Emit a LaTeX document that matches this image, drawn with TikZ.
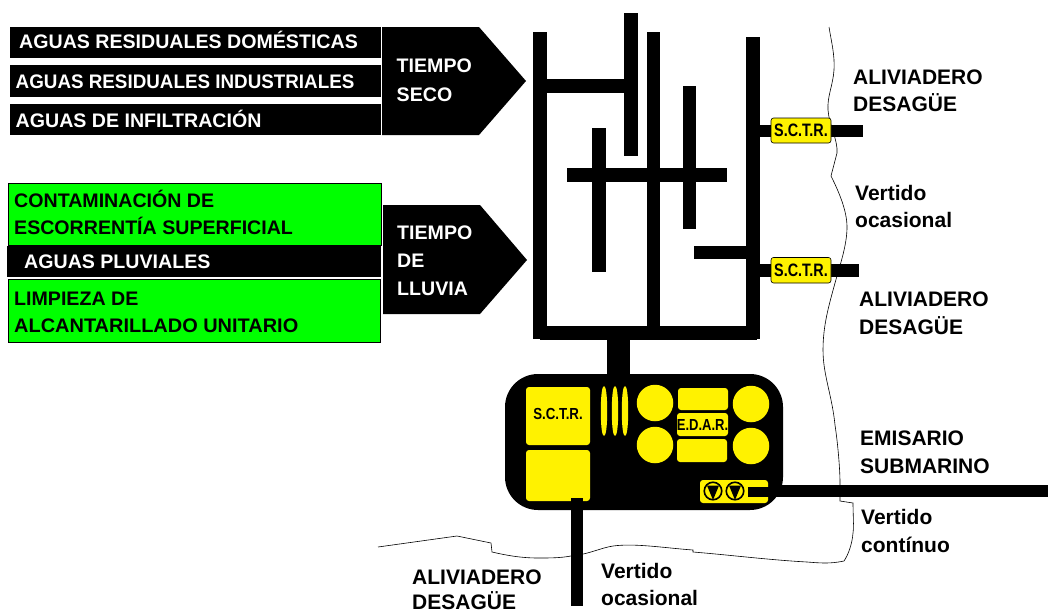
\documentclass[tikz,border=0pt]{standalone}
\usepackage{fontspec}
\setmainfont{Liberation Sans}
\tikzset{x=1pt,y=-1pt,
 lbl/.style={inner sep=0pt,anchor=base west,font=\fontsize{19.6}{19.6}\selectfont\bfseries,align=left},
 wlbl/.style={lbl,text=white},
 rlbl/.style={lbl,font=\fontsize{21}{21}\selectfont\bfseries},
 bbar/.style={fill=black,draw=none},
 gbox/.style={fill=green,draw=black,line width=0.7pt},
 yel/.style={fill=yellow,draw=none,rounded corners=3pt},
 yc/.style={fill=yellow,draw=none,circle,minimum size=36.5pt,inner sep=0pt},
 sctr/.style={fill=yellow,draw=black,line width=0.6pt,rounded corners=2.5pt},
 small/.style={inner sep=0pt,xscale=0.8,font=\fontsize{18}{18}\selectfont\bfseries},
 tiny/.style={inner sep=0pt,xscale=0.83,font=\fontsize{16}{16}\selectfont\bfseries},
 coast/.style={draw=black,line width=0.6pt},
 pump/.style={fill=yellow,draw=black,line width=1.6pt,circle,minimum size=17.5pt,inner sep=0pt}}
\begin{document}
\begin{tikzpicture}
\useasboundingbox (0,0) rectangle (1048,613);
% top left bars
\fill[bbar] (9.5,27) rectangle (381,58);
\fill[bbar] (9.5,65) rectangle (381,97);
\fill[bbar] (9.5,104) rectangle (381,135);
\node[wlbl] (t1) at (19,48) {AGUAS RESIDUALES DOMÉSTICAS};
\node[wlbl,xscale=0.96] (t2) at (15.5,88) {AGUAS RESIDUALES INDUSTRIALES};
\node[wlbl] (t3) at (15.5,127) {AGUAS DE INFILTRACIÓN};
% arrows
\fill[bbar] (382,27) -- (479,27) -- (526,81) -- (479,135) -- (382,135) -- cycle;
\node[wlbl] (ts1) at (396.5,72) {TIEMPO};
\node[wlbl] (ts2) at (396.5,101) {SECO};
\fill[bbar] (383,205) -- (480,205) -- (527,260) -- (480,314) -- (383,314) -- cycle;
\node[wlbl] (tl1) at (397,239) {TIEMPO};
\node[wlbl] (tl2) at (397,267) {DE};
\node[wlbl] (tl3) at (397,295) {LLUVIA};
% green
\path[gbox] (8,183) rectangle (381,245);
\fill[bbar] (7,246) rectangle (381,277);
\path[gbox] (8,279.5) rectangle (380,342);
\node[lbl] (g1) at (14,207) {CONTAMINACIÓN DE};
\node[lbl] (g2) at (14,234) {ESCORRENTÍA SUPERFICIAL};
\node[wlbl] (g3) at (24,268) {AGUAS PLUVIALES};
\node[lbl] (g4) at (14,305) {LIMPIEZA DE};
\node[lbl,xscale=1.018] (g5) at (14,332) {ALCANTARILLADO UNITARIO};
% coast
\path[coast] (829,27) .. controls (831,40) and (835,55) .. (834,70) .. controls (833,85) and (827,97) .. (828,110) .. controls (829,125) and (838,140) .. (837,153) -- (831,176) .. controls (838,190) and (847,210) .. (847,227) .. controls (847,245) and (840,265) .. (835,283) .. controls (829,305) and (823,325) .. (823,350) .. controls (823,375) and (832,395) .. (835,425) .. controls (838,445) and (840,470) .. (840,483) -- (840,501) -- (853,503) .. controls (853,515) and (854,525) .. (853,533) .. controls (852,545) and (848,555) .. (844,561) .. controls (830,564) and (820,563) .. (807,562) .. controls (770,560) and (730,555) .. (693,552) -- (693,550) .. controls (665,548) and (635,543) .. (613,546) .. controls (600,548) and (590,554) .. (571,556) .. controls (560,558) and (550,558) .. (538,558) .. controls (520,558) and (505,555) .. (492,552) -- (491,543) -- (457,536) -- (378,547);
% pipes
\fill[bbar] (533,32) rectangle (547,339);
\fill[bbar] (647,32) rectangle (660,339);
\fill[bbar] (746,37) rectangle (760,339);
\fill[bbar] (540,326) rectangle (757,340);
\fill[bbar] (547,79) rectangle (624,93);
\fill[bbar] (624,13) rectangle (637.5,156);
\fill[bbar] (567,168) rectangle (727,182);
\fill[bbar] (592,128) rectangle (606,272);
\fill[bbar] (683,86) rectangle (696,229);
\fill[bbar] (694,246) rectangle (747,259);
\fill[bbar] (760,125) rectangle (863,137);
\fill[bbar] (760,264) rectangle (859,277);
\path[sctr] (771,118) rectangle (831,143);
\path[sctr] (771,257.5) rectangle (831,283);
\node[small] (s1) at (801,130.5) {S.C.T.R.};
\node[small] (s2) at (801,270) {S.C.T.R.};
% EDAR plant
\fill[bbar] (607,335) rectangle (630,380);
\fill[bbar,rounded corners=33pt] (505,374) rectangle (783,510);
\fill[bbar] (760,485) rectangle (1048,497);
\path[yel] (526,387) rectangle (590,445);
\path[yel] (526,450) rectangle (590,501);
\fill[bbar] (571,498) rectangle (583,606);
\foreach \cx in {604,615,625}{
 \fill[yellow] (\cx-3.2,411) .. controls (\cx-3.2,396) and (\cx-2,386) .. (\cx,386) .. controls (\cx+2,386) and (\cx+3.2,396) .. (\cx+3.2,411) .. controls (\cx+3.2,426) and (\cx+2,436) .. (\cx,436) .. controls (\cx-2,436) and (\cx-3.2,426) .. (\cx-3.2,411) -- cycle;
}
\node[yc] (c1) at (655,403) {};
\node[yc] (c2) at (655,445) {};
\node[yc] (c3) at (751,404) {};
\node[yc] (c4) at (751,446) {};
\path[yel] (678,388) rectangle (728,410);
\path[yel] (677,413) rectangle (728,436);
\path[yel] (677,439) rectangle (727,462);
\node[tiny] (e1) at (558,414) {S.C.T.R.};
\node[tiny,xscale=0.98] (e2) at (702.5,425) {E.D.A.R.};
\path[yel] (700,480) rectangle (768,503);
\fill[bbar] (748,486.5) rectangle (775,497);
\node[pump] (p1) at (713,491) {};
\node[pump] (p2) at (735,491) {};
\fill[black] (707,485.5) -- (719,485.5) -- (713,500) -- cycle;
\fill[black] (729,485.5) -- (741,485.5) -- (735,500) -- cycle;
% labels
\node[rlbl] (a1) at (853,84) {ALIVIADERO};
\node[rlbl] (a2) at (853,111) {DESAGÜE};
\node[rlbl] (v1) at (855,200) {Vertido};
\node[rlbl] (v2) at (855,227) {ocasional};
\node[rlbl] (a3) at (859,306) {ALIVIADERO};
\node[rlbl] (a4) at (859,334) {DESAGÜE};
\node[rlbl] (em1) at (860,445) {EMISARIO};
\node[rlbl] (em2) at (860,473) {SUBMARINO};
\node[rlbl] (v3) at (861,524) {Vertido};
\node[rlbl] (v4) at (861,552) {contínuo};
\node[rlbl] (a5) at (412,584) {ALIVIADERO};
\node[rlbl] (a6) at (412,609.5) {DESAGÜE};
\node[rlbl] (v5) at (601,578) {Vertido};
\node[rlbl] (v6) at (601,605) {ocasional};
\end{tikzpicture}
\end{document}
